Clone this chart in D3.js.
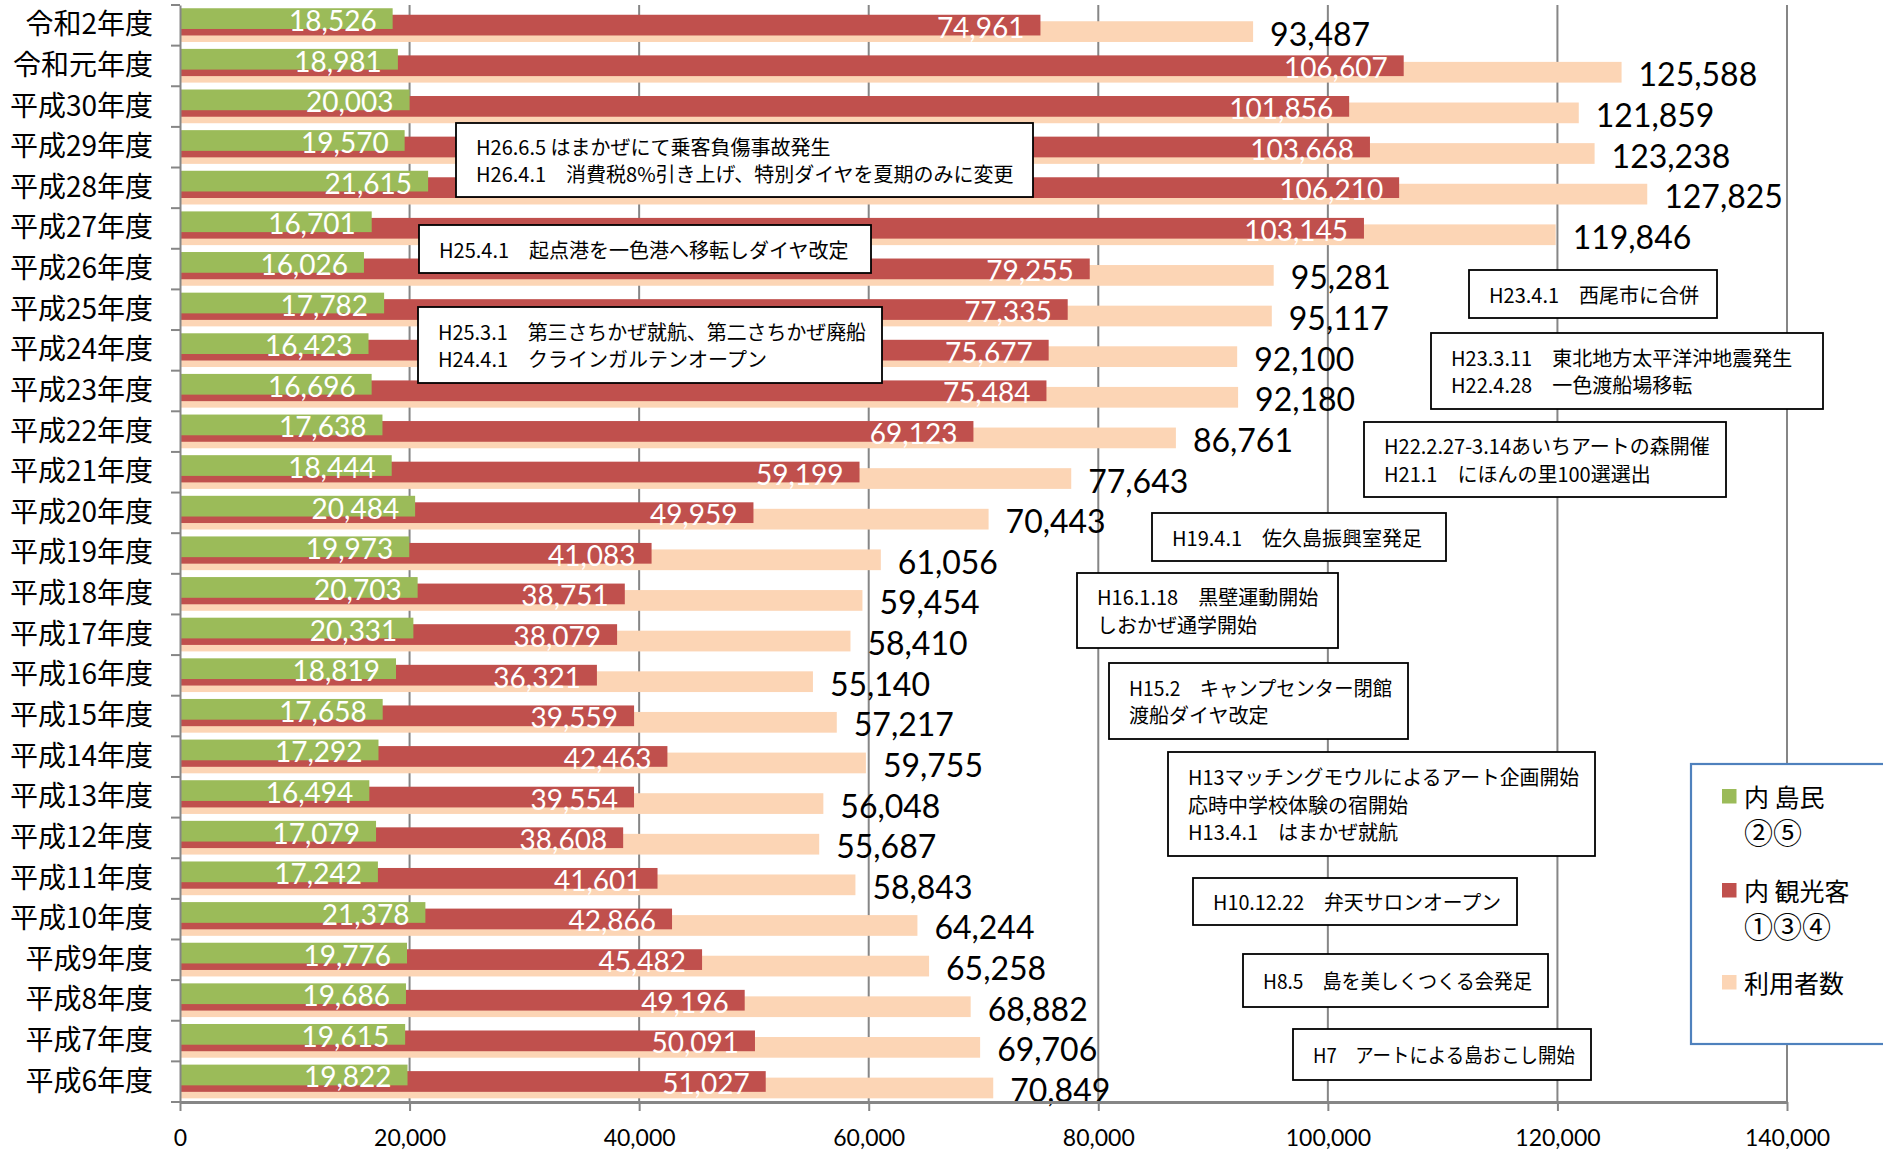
<!DOCTYPE html>
<html>
<head>
<meta charset="utf-8">
<script src="https://cdn.jsdelivr.net/npm/d3@7"></script>
<style>
body { margin: 0; background: #fff; }
</style>
</head>
<body>
<div id="chart"></div>
<script>
var years = ["令和2年度", "令和元年度", "平成30年度", "平成29年度", "平成28年度", "平成27年度",
    "平成26年度", "平成25年度", "平成24年度", "平成23年度", "平成22年度", "平成21年度",
    "平成20年度", "平成19年度", "平成18年度", "平成17年度", "平成16年度", "平成15年度",
    "平成14年度", "平成13年度", "平成12年度", "平成11年度", "平成10年度", "平成9年度",
    "平成8年度", "平成7年度", "平成6年度"]

// 内 島民 ②⑤
var islanders = [18526, 18981, 20003, 19570, 21615, 16701, 16026, 17782, 16423, 16696,
    17638, 18444, 20484, 19973, 20703, 20331, 18819, 17658, 17292, 16494, 17079, 17242,
    21378, 19776, 19686, 19615, 19822]

// 内 観光客 ①③④
var tourists = [74961, 106607, 101856, 103668, 106210, 103145, 79255, 77335, 75677, 75484,
    69123, 59199, 49959, 41083, 38751, 38079, 36321, 39559, 42463, 39554, 38608, 41601,
    42866, 45482, 49196, 50091, 51027]

// 利用者数
var users = [93487, 125588, 121859, 123238, 127825, 119846, 95281, 95117, 92100, 92180,
    86761, 77643, 70443, 61056, 59454, 58410, 55140, 57217, 59755, 56048, 55687, 58843,
    64244, 65258, 68882, 69706, 70849]

var xTicks = [0, 20000, 40000, 60000, 80000, 100000, 120000, 140000]

var legendNames = [["内 島民", "②⑤"], ["内 観光客", "①③④"], ["利用者数"]]

var notes = [
    ["H26.6.5 はまかぜにて乗客負傷事故発生", "H26.4.1\u3000消費税8%引き上げ、特別ダイヤを夏期のみに変更"],
    ["H25.4.1\u3000起点港を一色港へ移転しダイヤ改定"],
    ["H25.3.1\u3000第三さちかぜ就航、第二さちかぜ廃船", "H24.4.1\u3000クラインガルテンオープン"],
    ["H23.4.1\u3000西尾市に合併"],
    ["H23.3.11\u3000東北地方太平洋沖地震発生", "H22.4.28\u3000一色渡船場移転"],
    ["H22.2.27-3.14あいちアートの森開催", "H21.1\u3000にほんの里100選選出"],
    ["H19.4.1\u3000佐久島振興室発足"],
    ["H16.1.18\u3000黒壁運動開始", "しおかぜ通学開始"],
    ["H15.2\u3000キャンプセンター閉館", "渡船ダイヤ改定"],
    ["H13マッチングモウルによるアート企画開始", "応時中学校体験の宿開始", "H13.4.1\u3000はまかぜ就航"],
    ["H10.12.22\u3000弁天サロンオープン"],
    ["H8.5\u3000島を美しくつくる会発足"],
    ["H7\u3000アートによる島おこし開始"]
]

// box layout for the notes: left, top, right, bottom
var noteBoxes = [
    [456, 123, 1033, 197], [419, 225, 871, 273], [418, 307, 882, 383],
    [1469, 270, 1717, 318], [1431, 333, 1823, 409], [1364, 422, 1726, 497],
    [1152, 513, 1446, 561], [1077, 573, 1338, 648], [1109, 663, 1408, 739],
    [1168, 752, 1595, 856], [1193, 878, 1517, 925], [1243, 954, 1548, 1007],
    [1293, 1029, 1591, 1080]
]

var colors = ["#9BBB59", "#C0504D", "#FCD5B5"]
var jpFont = "'Noto Sans CJK JP', 'Noto Sans', sans-serif"
var numFont = "Lato, 'Liberation Sans', sans-serif"

var width = 1883, height = 1150

var svg = d3.select("#chart")
    .append("svg")
    .attr("width", width)
    .attr("height", height)

var x = d3.scaleLinear()
    .domain([0, 140000])
    .range([180, 1787])

var y = d3.scaleBand()
    .domain(years)
    .range([5, 1102])

var bw = y.bandwidth()
var barH = bw * 0.51

var rows = years.map(function(d, i) {
    return {year: d, isl: islanders[i], tour: tourists[i], users: users[i]}
})

// gridlines
svg.append("g")
    .selectAll("line")
    .data(xTicks.slice(1))
    .enter().append("line")
    .attr("x1", function(d) { return x(d) })
    .attr("x2", function(d) { return x(d) })
    .attr("y1", 5)
    .attr("y2", 1102)
    .attr("stroke", "#868686")
    .attr("stroke-width", 2)

// bars: 利用者数 behind, 観光客 in the middle, 島民 in front
var barSets = [
    {key: "users", off: 0.40, color: colors[2]},
    {key: "tour", off: 0.24, color: colors[1]},
    {key: "isl", off: 0.08, color: colors[0]}
]

barSets.forEach(function(s) {
    svg.append("g")
        .selectAll("rect")
        .data(rows)
        .enter().append("rect")
        .attr("x", x(0))
        .attr("y", function(d) { return y(d.year) + bw * s.off })
        .attr("width", function(d) { return x(d[s.key]) - x(0) })
        .attr("height", barH)
        .attr("fill", s.color)
})

var fmt = d3.format(",")

// labels inside the green and red bars
var inside = [{key: "isl", off: 0.08}, {key: "tour", off: 0.24}]
inside.forEach(function(s) {
    svg.append("g")
        .selectAll("text")
        .data(rows)
        .enter().append("text")
        .attr("x", function(d) { return x(d[s.key]) - 16 })
        .attr("y", function(d) { return y(d.year) + bw * s.off + barH / 2 + 1.5 })
        .attr("text-anchor", "end")
        .attr("dominant-baseline", "central")
        .attr("fill", "white")
        .style("font-family", numFont)
        .style("font-size", "28px")
        .text(function(d) { return fmt(d[s.key]) })
})

// totals outside the peach bars
svg.append("g")
    .selectAll("text")
    .data(rows)
    .enter().append("text")
    .attr("x", function(d) { return x(d.users) + 17 })
    .attr("y", function(d) { return y(d.year) + bw * 0.40 + barH / 2 + 1.5 })
    .attr("dominant-baseline", "central")
    .attr("fill", "black")
    .style("font-family", numFont)
    .style("font-size", "32px")
    .text(function(d) { return fmt(d.users) })

// left axis
var yAxis = svg.append("g")
    .attr("transform", "translate(180,0)")
    .call(d3.axisLeft(y).tickSize(0).tickPadding(27))
yAxis.select(".domain").attr("stroke", "#868686").attr("stroke-width", 2)
yAxis.selectAll("text")
    .style("font-family", jpFont)
    .style("font-size", "28px")
    .attr("fill", "black")

var bounds = years.map(function(d) { return y(d) }).concat([y.range()[1]])
svg.append("g")
    .selectAll("line")
    .data(bounds)
    .enter().append("line")
    .attr("x1", 171)
    .attr("x2", 180)
    .attr("y1", function(d) { return d })
    .attr("y2", function(d) { return d })
    .attr("stroke", "#868686")
    .attr("stroke-width", 2)

// bottom axis
var xAxis = svg.append("g")
    .attr("transform", "translate(0,1102)")
    .call(d3.axisBottom(x).tickValues(xTicks).tickFormat(fmt).tickSize(9).tickSizeOuter(0))
xAxis.select(".domain").attr("stroke", "#868686").attr("stroke-width", 3)
xAxis.selectAll(".tick line").attr("stroke", "#868686").attr("stroke-width", 2)
xAxis.selectAll("text")
    .attr("y", 36)
    .attr("dy", "0.35em")
    .attr("fill", "black")
    .style("font-family", numFont)
    .style("font-size", "23px")

// note boxes
var noteG = svg.append("g")
    .selectAll("g")
    .data(notes)
    .enter().append("g")

noteG.append("rect")
    .attr("x", function(d, i) { return noteBoxes[i][0] })
    .attr("y", function(d, i) { return noteBoxes[i][1] })
    .attr("width", function(d, i) { return noteBoxes[i][2] - noteBoxes[i][0] })
    .attr("height", function(d, i) { return noteBoxes[i][3] - noteBoxes[i][1] })
    .attr("fill", "white")
    .attr("stroke", "black")
    .attr("stroke-width", 1.8)

noteG.each(function(lines, i) {
    var b = noteBoxes[i]
    var mid = (b[1] + b[3]) / 2
    var maxW = b[2] - b[0] - 36
    d3.select(this).selectAll("text")
        .data(lines)
        .enter().append("text")
        .attr("x", b[0] + 20)
        .attr("y", function(d, j) { return mid + (j - (lines.length - 1) / 2) * 27.5 })
        .attr("dominant-baseline", "central")
        .attr("fill", "black")
        .style("font-family", jpFont)
        .style("font-size", "20px")
        .text(function(d) { return d })
        .each(function() {
            if (this.getComputedTextLength() > maxW) {
                d3.select(this).attr("textLength", maxW).attr("lengthAdjust", "spacingAndGlyphs")
            }
        })
})

// legend
var legend = svg.append("g")
legend.append("rect")
    .attr("x", 1691)
    .attr("y", 764)
    .attr("width", 210)
    .attr("height", 280)
    .attr("fill", "white")
    .attr("stroke", "#4F81BD")
    .attr("stroke-width", 2.2)

var legendTop = [789, 883, 975]
var legendItem = legend.selectAll(".legendItem")
    .data(legendNames)
    .enter().append("g")
    .attr("class", "legendItem")
    .attr("transform", function(d, i) { return "translate(1722," + legendTop[i] + ")" })

legendItem.append("rect")
    .attr("width", 14.5)
    .attr("height", 14.5)
    .attr("fill", function(d, i) { return colors[i] })

legendItem.selectAll("text")
    .data(function(d) { return d })
    .enter().append("text")
    .attr("x", 22)
    .attr("y", function(d, j) { return 7 + j * 35 })
    .attr("dominant-baseline", "central")
    .attr("fill", "black")
    .style("font-family", jpFont)
    .style("font-size", function(d, j) { return j === 1 ? "29px" : "25px" })
    .text(function(d) { return d })
</script>
</body>
</html>
